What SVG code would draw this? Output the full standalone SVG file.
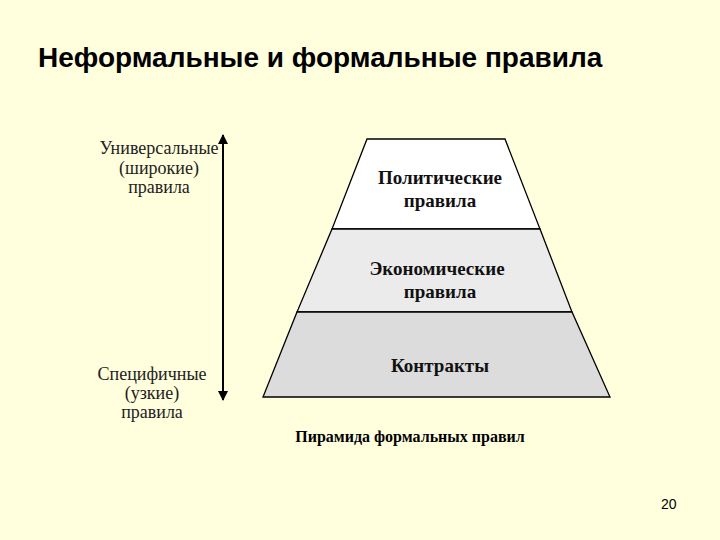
<svg xmlns="http://www.w3.org/2000/svg" width="720" height="540" viewBox="0 0 720 540">
<defs>
<style>
.title{font-family:"Liberation Sans",Arial,sans-serif;font-weight:bold;font-size:28px;fill:#000}
.side{font-family:"Liberation Serif","Times New Roman",serif;font-size:18px;fill:#222;text-anchor:middle}
.lvl{font-family:"Liberation Serif","Times New Roman",serif;font-weight:bold;font-size:19px;fill:#111;text-anchor:middle}
.cap{font-family:"Liberation Serif","Times New Roman",serif;font-weight:bold;font-size:16px;fill:#000;text-anchor:middle}
.num{font-family:"Liberation Sans",Arial,sans-serif;font-size:14px;fill:#000}
.band{stroke:#000;stroke-width:1.3}
</style>
<marker id="ah" viewBox="0 0 10 10" refX="9" refY="5" markerWidth="5" markerHeight="5" orient="auto-start-reverse">
<path d="M0,0 L10,5 L0,10 z" fill="#000"/>
</marker>
</defs>
<rect width="720" height="540" fill="#FFFFDE"/>
<text class="title" x="38" y="67">Неформальные и формальные правила</text>
<g id="universal">
<text class="side" x="159" y="154">Универсальные</text>
<text class="side" x="159" y="174">(широкие)</text>
<text class="side" x="159" y="193">правила</text>
</g>
<g id="specific">
<text class="side" x="152" y="380">Специфичные</text>
<text class="side" x="152" y="399">(узкие)</text>
<text class="side" x="152" y="418">правила</text>
</g>
<g id="connectors">
<line x1="223" y1="400" x2="223" y2="135" stroke="#000" stroke-width="2" marker-start="url(#ah)" marker-end="url(#ah)"/>
</g>
<g id="political">
<polygon class="band" points="367,139 505,139 540,229 332,229" fill="#FFFFFF"/>
<text class="lvl" x="440" y="184">Политические</text>
<text class="lvl" x="440" y="207">правила</text>
</g>
<g id="economic">
<polygon class="band" points="332,229 540,229 572,312 297,312" fill="#EBEBEB"/>
<text class="lvl" x="437" y="275">Экономические</text>
<text class="lvl" x="440" y="298">правила</text>
</g>
<g id="contracts">
<polygon class="band" points="297,312 572,312 610,397 263,397" fill="#DCDCDC"/>
<text class="lvl" x="440" y="372">Контракты</text>
</g>
<text class="cap" x="410" y="442">Пирамида формальных правил</text>
<text class="num" x="661" y="509">20</text>
</svg>
